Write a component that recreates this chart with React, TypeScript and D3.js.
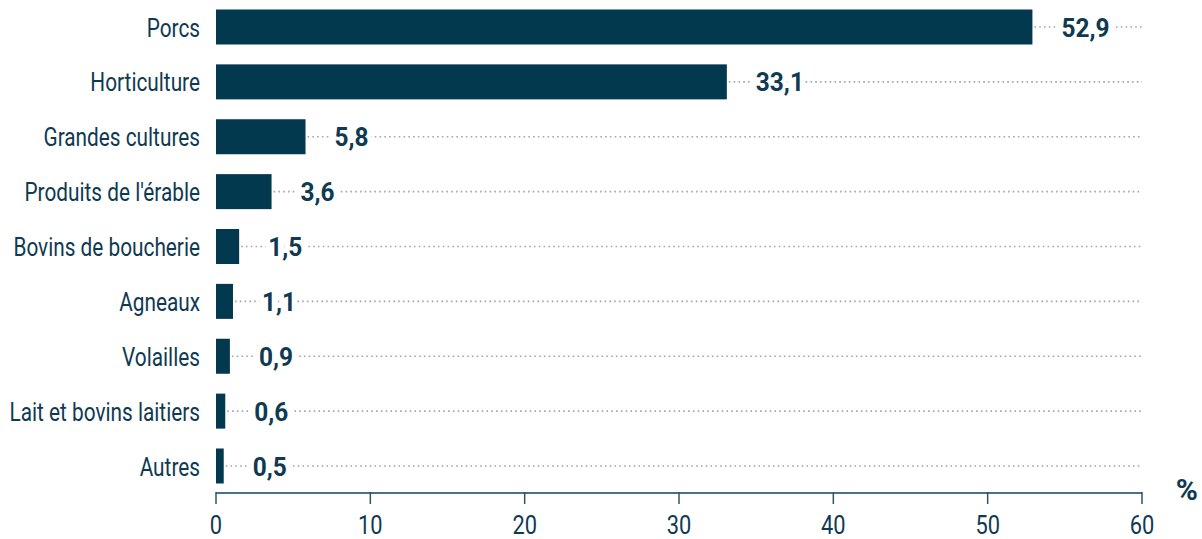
import React from "react";
import * as d3 from "d3";

const categories = [
  "Porcs",
  "Horticulture",
  "Grandes cultures",
  "Produits de l'érable",
  "Bovins de boucherie",
  "Agneaux",
  "Volailles",
  "Lait et bovins laitiers",
  "Autres",
];
const values = [52.9, 33.1, 5.8, 3.6, 1.5, 1.1, 0.9, 0.6, 0.5];
const xTicks = [0, 10, 20, 30, 40, 50, 60];

const W = 1202;
const H = 539;
const BAR = "#03394f";
const TEXT = "#0f3a52";
const SX = 0.785; // horizontal condensation for labels

function CondText({ x, y, anchor, size, weight, sx, children, halo }: any) {
  return (
    <text
      transform={`translate(${x},${y}) scale(${sx},1)`}
      textAnchor={anchor}
      fill={TEXT}
      stroke={halo ? "#fff" : undefined}
      strokeWidth={halo ? 10 : undefined}
      paintOrder="stroke"
      style={{ fontFamily: "Roboto, sans-serif", fontSize: size, fontWeight: weight }}
    >
      {children}
    </text>
  );
}

export default function App() {
  const x = d3.scaleLinear().domain([0, 60]).range([216, 1142]);
  const y = d3.scalePoint<string>().domain(categories).range([27, 466]);
  const barH = 35;
  const axisY = 493;
  const fmt = (v: number) => v.toFixed(1).replace(".", ",");

  return (
    <svg
      width={W}
      height={H}
      style={{ position: "absolute", left: 0, top: 0, background: "#fff" }}
    >
      {categories.map((c, i) => {
        const cy = y(c)!;
        const xe = x(values[i]);
        return (
          <g key={c}>
            <line
              x1={xe + 2}
              x2={x(60)}
              y1={cy}
              y2={cy}
              stroke="#9ea6b6"
              strokeWidth={1.6}
              strokeDasharray="1.6 3.2"
            />
            <rect x={x(0)} y={cy - barH / 2} width={xe - x(0)} height={barH} fill={BAR} />
            <CondText x={200} y={cy + 9.5} anchor="end" size={26.5} weight={400} sx={SX}>
              {c}
            </CondText>
            <CondText x={xe + 29} y={cy + 9.5} anchor="start" size={26} weight={700} sx={0.94} halo>
              {fmt(values[i])}
            </CondText>
          </g>
        );
      })}
      <line x1={x(0)} x2={x(60)} y1={axisY} y2={axisY} stroke="#4d7184" strokeWidth={2} />
      {xTicks.map((t) => (
        <g key={t}>
          <line x1={x(t)} x2={x(t)} y1={axisY - 1} y2={axisY + 11} stroke="#2e5468" strokeWidth={1.5} />
          <CondText x={x(t)} y={534} anchor="middle" size={26} weight={400} sx={0.84}>
            {t}
          </CondText>
        </g>
      ))}
      <text
        x={1198}
        y={500}
        textAnchor="end"
        fill={TEXT}
        style={{ fontFamily: "Roboto, sans-serif", fontSize: 30, fontWeight: 700 }}
      >
        %
      </text>
    </svg>
  );
}
